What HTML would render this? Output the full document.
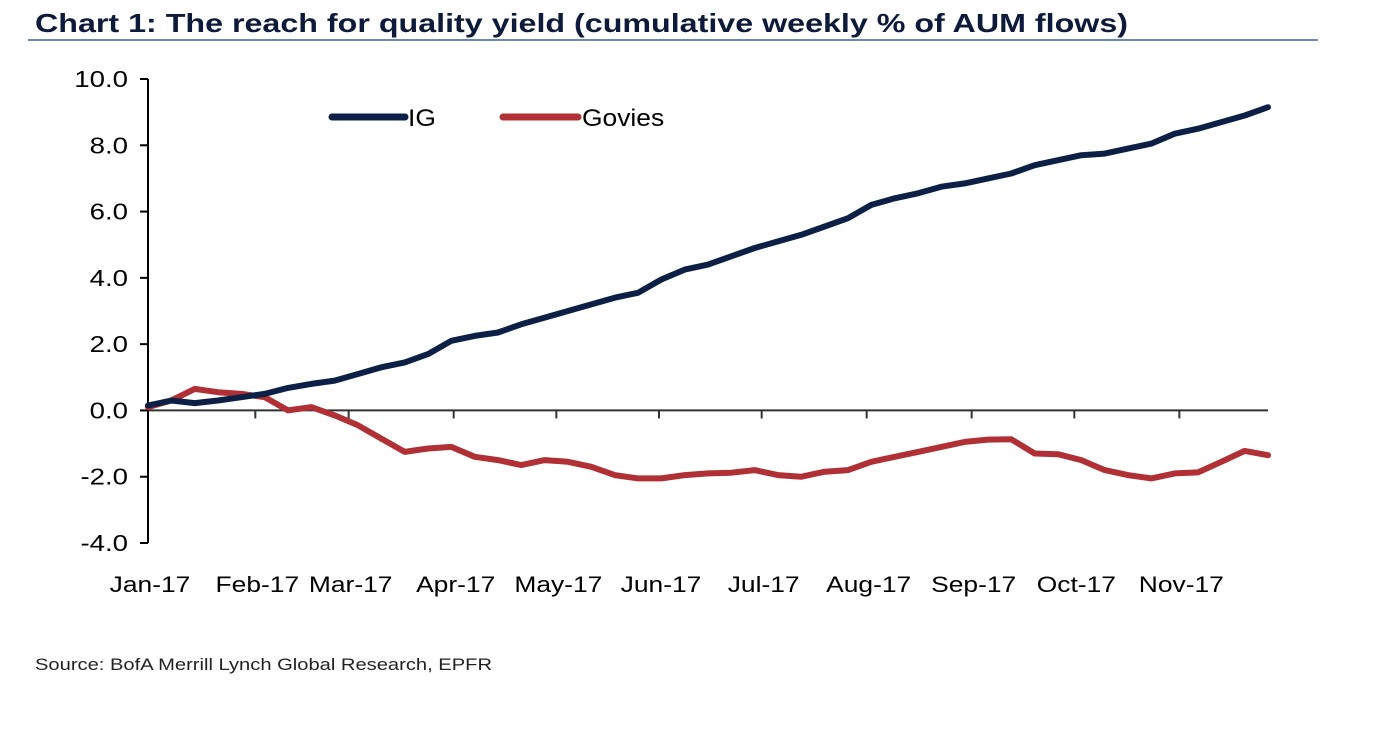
<!DOCTYPE html>
<html><head><meta charset="utf-8"><style>
html,body{margin:0;padding:0;background:#fff;}
svg{display:block;font-family:"Liberation Sans",Arial,sans-serif;}
</style></head><body>
<svg id="chart" width="1384" height="730" viewBox="0 0 1384 730" xmlns="http://www.w3.org/2000/svg">
<text x="35" y="32" font-size="26" font-weight="bold" fill="#0d1a3a" textLength="1093" lengthAdjust="spacingAndGlyphs">Chart 1: The reach for quality yield (cumulative weekly % of AUM flows)</text>
<line x1="28" y1="40" x2="1318" y2="40" stroke="#6b86b8" stroke-width="2"/>
<g id="axes"></g>
<g id="series"></g>
<g>
<line x1="332" y1="117" x2="405" y2="117" stroke="#0c1f45" stroke-width="7" stroke-linecap="round"/>
<text transform="translate(408,126) scale(1.1,1)" font-size="24" fill="#000">IG</text>
<line x1="503" y1="117" x2="578" y2="117" stroke="#b03035" stroke-width="7" stroke-linecap="round"/>
<text transform="translate(582,126) scale(1.1,1)" font-size="24" fill="#000">Govies</text>
</g>
<text x="35" y="670" font-size="17" fill="#222" textLength="457" lengthAdjust="spacingAndGlyphs">Source:   BofA Merrill Lynch Global Research, EPFR</text>
</svg>
<script>
const yTicks = [10, 8, 6, 4, 2, 0, -2, -4];
const monthLabels = ["Jan-17","Feb-17","Mar-17","Apr-17","May-17","Jun-17","Jul-17","Aug-17","Sep-17","Oct-17","Nov-17"];
const monthWeekPos = [0, 4.6, 8.6, 13.1, 17.5, 21.9, 26.3, 30.8, 35.3, 39.7, 44.2];
const igValues = [0.15,0.3,0.22,0.3,0.4,0.5,0.68,0.8,0.9,1.1,1.3,1.45,1.7,2.1,2.25,2.35,2.6,2.8,3.0,3.2,3.4,3.55,3.95,4.25,4.4,4.65,4.9,5.1,5.3,5.55,5.8,6.2,6.4,6.55,6.75,6.85,7.0,7.15,7.4,7.55,7.7,7.75,7.9,8.05,8.35,8.5,8.7,8.9,9.15];
const goviesValues = [0.1,0.3,0.65,0.55,0.5,0.4,0.0,0.1,-0.15,-0.45,-0.85,-1.25,-1.15,-1.1,-1.4,-1.5,-1.65,-1.5,-1.55,-1.7,-1.95,-2.05,-2.05,-1.95,-1.9,-1.88,-1.8,-1.95,-2.0,-1.85,-1.8,-1.55,-1.4,-1.25,-1.1,-0.95,-0.88,-0.87,-1.3,-1.32,-1.5,-1.8,-1.95,-2.05,-1.9,-1.87,-1.55,-1.22,-1.35];

const NS = "http://www.w3.org/2000/svg";
const X0 = 148, X1 = 1268, Y0 = 79, Y1 = 543, YMAX = 10, YMIN = -4;
const nWeeks = igValues.length - 1;
function xScale(i){ return X0 + (X1 - X0) * i / nWeeks; }
function yScale(v){ return Y0 + (YMAX - v) * (Y1 - Y0) / (YMAX - YMIN); }
function mk(tag, attrs, parent){ const e = document.createElementNS(NS, tag); for (const k in attrs) e.setAttribute(k, attrs[k]); parent.appendChild(e); return e; }

const axes = document.getElementById("axes");
const yAxis = mk("line", {x1:X0, y1:Y0, x2:X0, y2:Y1, stroke:"#000", "stroke-width":2}, axes);


yTicks.forEach(v => {
  const y = yScale(v);
  const t = mk("line", {x1:X0-8, y1:y, x2:X0, y2:y, stroke:"#000", "stroke-width":2}, axes);
  
  
  const l = mk("text", {transform:"translate(128," + (y+8) + ") scale(1.2,1)", "font-size":23, "text-anchor":"end", fill:"#000"}, axes);
  l.textContent = v.toFixed(1);
  
  
});
const xAxis = mk("line", {x1:X0, y1:yScale(0), x2:X1, y2:yScale(0), stroke:"#333", "stroke-width":2}, axes);


monthLabels.forEach((m, i) => {
  const x = xScale(monthWeekPos[i]);
  if (i > 0) {
    const t = mk("line", {x1:x, y1:yScale(0), x2:x, y2:yScale(0)+8, stroke:"#333", "stroke-width":2}, axes);
    
    
  }
  const l = mk("text", {transform:"translate(" + (x+2) + ",592) scale(1.2,1)", "font-size":22, "text-anchor":"middle", fill:"#000"}, axes);
  l.textContent = m;
  
  
});

const series = document.getElementById("series");
function drawLine(vals, color, name){
  const d = vals.map((v, i) => (i ? "L" : "M") + xScale(i).toFixed(1) + " " + yScale(v).toFixed(1)).join(" ");
  const p = mk("path", {d:d, fill:"none", stroke:color, "stroke-width":6, "stroke-linejoin":"round", "stroke-linecap":"round"}, series);
  
  
}
drawLine(goviesValues, "#b03035", "govies-line");
drawLine(igValues, "#0c1f45", "ig-line");
</script>
</body></html>
